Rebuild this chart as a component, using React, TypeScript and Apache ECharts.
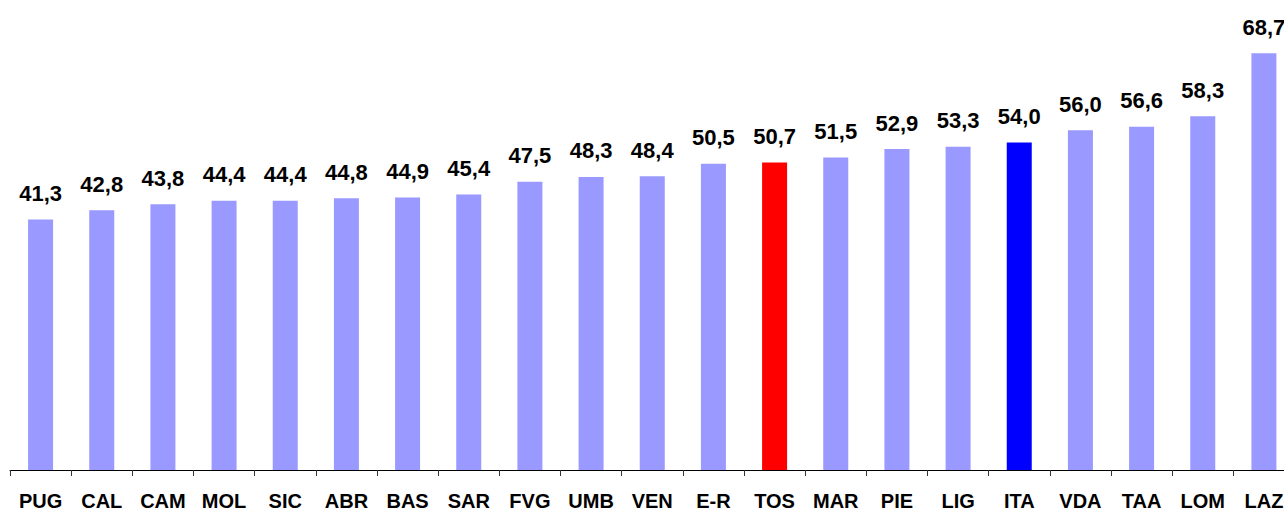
import React, { useEffect, useRef } from "react";
import * as echarts from "echarts";

const categories = ["PUG", "CAL", "CAM", "MOL", "SIC", "ABR", "BAS", "SAR", "FVG", "UMB", "VEN", "E-R", "TOS", "MAR", "PIE", "LIG", "ITA", "VDA", "TAA", "LOM", "LAZ"];
const values = [41.3, 42.8, 43.8, 44.4, 44.4, 44.8, 44.9, 45.4, 47.5, 48.3, 48.4, 50.5, 50.7, 51.5, 52.9, 53.3, 54.0, 56.0, 56.6, 58.3, 68.7];
const highlightRed = ["TOS"];
const highlightBlue = ["ITA"];

export default function App() {
  const ref = useRef<HTMLDivElement>(null);
  useEffect(() => {
    if (!ref.current) return;
    const chart = echarts.init(ref.current, null, { renderer: "svg" });
    const data = values.map((v, i) => {
      const c = categories[i];
      let color = "#9999FF";
      if (highlightRed.includes(c)) color = "#FF0000";
      if (highlightBlue.includes(c)) color = "#0000FF";
      return { value: v, itemStyle: { color } };
    });
    chart.setOption({
      animation: false,
      grid: { left: 10, top: 15, right: 25.5, height: 455, containLabel: false },
      xAxis: {
        type: "category",
        data: categories,
        axisLine: { lineStyle: { color: "#000", width: 1 } },
        axisTick: { show: true, alignWithLabel: false, length: 6, lineStyle: { color: "#333" } },
        axisLabel: {
          color: "#000",
          fontWeight: "bold",
          fontSize: 20,
          fontFamily: "Liberation Sans, Arial, sans-serif",
          margin: 21,
          interval: 0,
        },
      },
      yAxis: {
        type: "value",
        min: 0,
        max: 75,
        show: false,
        splitLine: { show: false },
      },
      series: [
        {
          type: "bar",
          data,
          barWidth: 25,
          label: {
            show: true,
            position: "top",
            distance: 15,
            color: "#000",
            fontWeight: "bold",
            fontSize: 22,
            fontFamily: "Liberation Sans, Arial, sans-serif",
            formatter: (p: any) => Number(p.value).toFixed(1).replace(".", ","),
          },
        },
      ],
    });
    return () => chart.dispose();
  }, []);
  return (
    <div style={{ position: "fixed", left: 0, top: 0, width: 1284, height: 511, overflow: "hidden", background: "#fff" }}>
      <div ref={ref} style={{ width: 1320, height: 511 }} />
    </div>
  );
}
